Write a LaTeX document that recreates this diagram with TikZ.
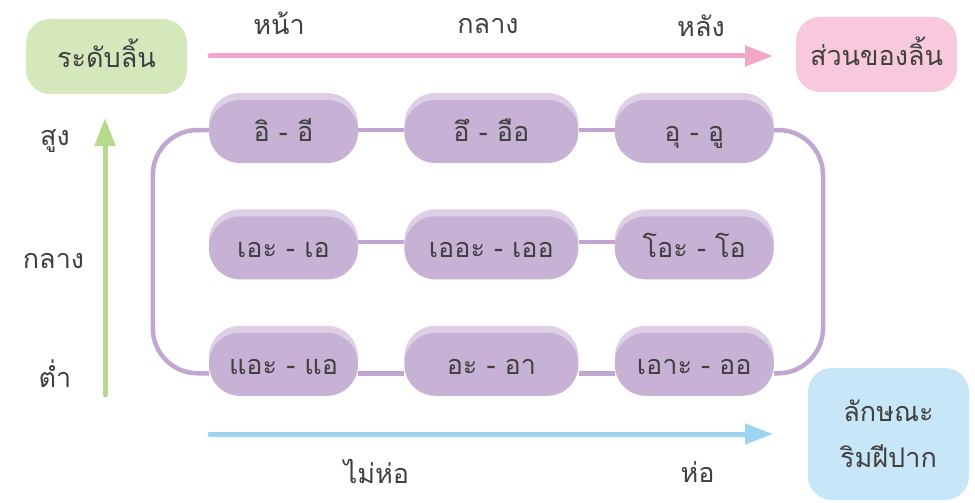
\documentclass[tikz,border=0pt]{standalone}
\usepackage{fontspec}
\newfontfamily\thaifont[Script=Thai]{Loma}
\usetikzlibrary{arrows.meta,positioning}
\definecolor{ink}{HTML}{404040}
\definecolor{pilldark}{HTML}{C7B1D5}
\definecolor{pilltop}{HTML}{DDD0E6}
\definecolor{linkcol}{HTML}{C1A6D1}
\definecolor{greenbox}{HTML}{D5E8BC}
\definecolor{greenarrow}{HTML}{B6D98C}
\definecolor{pinkbox}{HTML}{F8C9DD}
\definecolor{pinkarrow}{HTML}{F2A7C6}
\definecolor{bluebox}{HTML}{C7E6F7}
\definecolor{bluearrow}{HTML}{9DD4F1}
\tikzset{
    thai/.style = {
        font = \thaifont\fontsize{27}{46}\selectfont,
        text = ink,
        },
    word/.style = {
        thai,
        anchor = base,
        inner sep = 0pt,
        },
    vowel/.style = {
        thai,
        fill = pilldark,
        rounded corners = 31pt,
        minimum width = #1,
        minimum height = 63pt,
        inner sep = 0pt,
        text height = 21pt,
        text depth = 1pt,
        preaction = {fill = pilltop, transform canvas = {yshift=7pt}},
        },
    head box/.style = {
        thai,
        rounded corners = 24pt,
        minimum width = 161pt,
        inner sep = 0pt,
        align = center,
        },
    link/.style = {
        draw = linkcol,
        line width = 4.5pt,
        },
    axis/.style = {
        line width = 5pt,
        line cap = round,
        -{Triangle[length=28pt, width=20pt]},
        },
}
\begin{document}
\begin{tikzpicture}[x=1pt, y=-1pt]
    \useasboundingbox (0,0) rectangle (975,503);

    % vowel grid
    \node[vowel=149pt] (i) at (283.5,131.5) {อิ - อี};
    \node[vowel=174pt, right=46pt of i] (ue) {อึ - อือ};
    \node[vowel=159pt, right=36pt of ue] (u) {อุ - อู};
    \node[vowel=149pt, below=53pt of i] (e) {เอะ - เอ};
    \node[vowel=174pt, below=53pt of ue] (oe) {เออะ - เออ};
    \node[vowel=159pt, below=53pt of u] (o) {โอะ - โอ};
    \node[vowel=149pt, below=53pt of e] (ae) {แอะ - แอ};
    \node[vowel=174pt, below=53pt of oe] (a) {อะ - อา};
    \node[vowel=159pt, below=53pt of o] (aw) {เอาะ - ออ};

    \draw[link] ([yshift=1.5pt]i.east) -- ([yshift=1.5pt]ue.west);
    \draw[link] ([yshift=1.5pt]ue.east) -- ([yshift=1.5pt]u.west);
    \draw[link] ([yshift=6pt]e.east) -- ([yshift=6pt]oe.west);
    \draw[link] ([yshift=6pt]oe.east) -- ([yshift=6pt]o.west);
    \draw[link] ([yshift=-9pt]ae.east) -- ([yshift=-9pt]a.west);
    \draw[link] ([yshift=-9pt]a.east) -- ([yshift=-9pt]aw.west);
    \draw[link, rounded corners=45pt] ([yshift=1.5pt]i.west) -- ++(-56,0) |- ([yshift=-9pt]ae.west);
    \draw[link, rounded corners=45pt] ([yshift=1.5pt]u.east) -- ++(49,0) |- ([yshift=-9pt]aw.east);

    % corner boxes
    \node[head box, fill=greenbox, minimum height=75pt, text height=23pt, text depth=0pt] (level) at (106.5,56.5) {ระดับลิ้น};
    \node[head box, fill=pinkbox, minimum height=75pt, text height=23pt, text depth=0pt] (tongue) at (876.5,54.5) {ส่วนของลิ้น};
    \node[head box, fill=bluebox, minimum height=132pt] (lips) at (888.5,434) {ลักษณะ\\ริมฝีปาก};

    % axes
    \coordinate (pink from) at (210,56);
    \coordinate (pink to) at (773,56);
    \coordinate (green from) at (105,395);
    \coordinate (green to) at (105,118);
    \coordinate (blue from) at (210,434);
    \coordinate (blue to) at (773,434);
    \draw[axis, draw=pinkarrow, fill=pinkarrow] (pink from) -- (pink to);
    \draw[axis, draw=greenarrow, fill=greenarrow] (green from) -- (green to);
    \draw[axis, draw=bluearrow, fill=bluearrow] (blue from) -- (blue to);

    % axis words
    \node[word] (front) at (279,35) {หน้า};
    \node[word] (central) at (488,34) {กลาง};
    \node[word] (back) at (701,37) {หลัง};
    \node[word] (high) at (55,145) {สูง};
    \node[word] (mid) at (53.5,268) {กลาง};
    \node[word] (low) at (55,387) {ต่ำ};
    \node[word] (spread) at (376.5,483) {ไม่ห่อ};
    \node[word] (round) at (697.5,482) {ห่อ};
\end{tikzpicture}
\end{document}
